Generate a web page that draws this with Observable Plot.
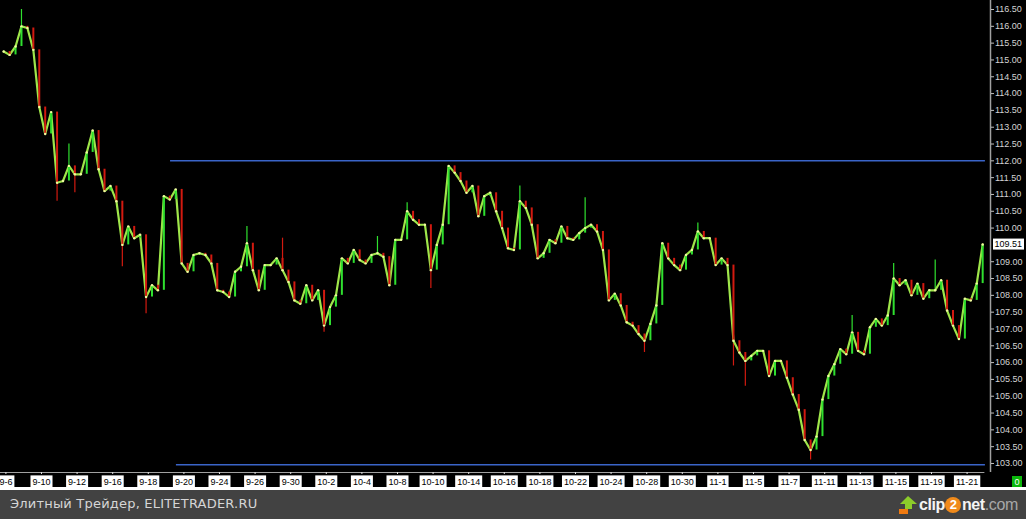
<!DOCTYPE html>
<html><head><meta charset="utf-8">
<script src="https://cdn.jsdelivr.net/npm/d3@7"></script>
<script src="https://cdn.jsdelivr.net/npm/@observablehq/plot@0.6"></script>
<style>
html,body{margin:0;padding:0;background:#000;width:1026px;height:519px;overflow:hidden}
#chart{height:490px;width:1026px;position:relative}
#chart svg{display:block}
#footer{height:29px;width:1026px;background:#424242;position:relative;}
#ftext{position:absolute;left:10px;top:6px;color:#d6d6d6;font-family:"DejaVu Sans";font-size:13px;letter-spacing:0.2px;white-space:nowrap}
#logo{position:absolute;left:897px;top:3px;height:24px;display:flex;align-items:center;white-space:nowrap;width:129px}
#logo .t{font-family:"Liberation Sans";font-size:16px;font-weight:bold;color:#f4f4f4;letter-spacing:-0.4px;white-space:nowrap}
#logo .two{display:inline-block;width:16px;height:16px;border-radius:50%;background:#f08a1a;color:#fff;font-size:13px;line-height:16px;text-align:center;margin:0 0.5px;vertical-align:1px;letter-spacing:0}
#logo .com{color:#a8a8a8;font-weight:normal}
</style></head><body>
<div id="chart"></div>
<div id="footer">
  <div id="ftext">Элитный Трейдер, ELITETRADER.RU</div>
  <div id="logo">
    <svg width="22" height="20" viewBox="0 0 22 20"><polygon points="11,1 20,9 15,9 15,14 8,14 8,9 3,9" fill="#8ccc2a"/><rect x="2" y="14" width="9" height="5" fill="#f07a10"/></svg>
    <span class="t">clip<span class="two">2</span>net<span class="com">.com</span></span>
  </div>
</div>
<script>
// closing prices, one every third of a trading day (9-6 .. 11-21)
const closes = [
 115.25,115.15,115.4,116.0,115.95,115.3,113.6,112.8,113.45,111.35,
 111.4,111.85,111.6,111.6,112.25,112.9,111.75,111.1,111.25,110.8,
 109.5,110.05,109.7,109.8,107.95,108.3,108.15,110.95,110.85,111.15,
 108.95,108.7,109.2,109.25,109.2,108.95,108.15,108.1,107.95,108.7,
 108.85,109.55,108.75,108.15,108.9,108.9,109.1,108.75,108.4,107.85,
 107.75,108.3,107.85,108.15,107.1,107.65,108.0,109.1,108.95,109.35,
 109.05,108.95,109.2,109.25,109.15,108.3,109.65,109.65,110.5,110.25,
 110.1,110.1,108.75,109.5,110.1,111.85,111.65,111.4,111.05,111.25,
 110.35,110.95,111.05,110.5,110.0,109.4,109.35,110.8,110.6,110.1,
 109.1,109.25,109.65,109.55,110.05,109.7,109.65,109.85,110.0,110.1,
 109.9,109.35,107.85,108.05,107.7,107.2,107.1,106.85,106.65,107.15,
 107.7,109.55,109.1,108.9,108.75,109.2,109.35,109.9,109.7,109.7,
 108.9,109.1,108.9,106.65,106.3,106.05,106.2,106.35,106.35,105.6,
 106.05,106.05,105.55,105.05,104.6,103.7,103.4,103.8,104.9,105.6,
 105.95,106.4,106.25,106.9,106.35,106.25,107.05,107.3,107.1,107.4,
 108.5,108.3,108.45,108.0,108.35,107.9,108.15,108.15,108.45,107.55,
 107.1,106.7,107.9,107.85,108.35,109.51
];
// wick extremes [bar index, price]
const spikes = [
 [3,116.5],[9,110.8],[11,112.5],[12,111.05],[20,108.85],[24,107.45],
 [41,110.05],[47,109.7],[54,106.9],[63,109.75],[68,110.75],[72,108.2],
 [87,111.25],[98,110.9],[108,106.3],[117,110.15],[123,105.9],[125,105.3],
 [136,103.1],[143,107.4],[150,108.95],[157,109.05]
];
const tickLabels = ["9-6","9-10","9-12","9-16","9-18","9-20","9-24","9-26","9-30","10-2",
 "10-4","10-8","10-10","10-14","10-16","10-18","10-22","10-24","10-28","10-30",
 "11-1","11-5","11-7","11-11","11-13","11-15","11-19","11-21"];
const levelPrices = [112.0, 102.96];
const levelFrom = [9.25, 9.58];
const levelTo = [55.03, 55.03];
const lastPrice = 109.51;
const yTicks = d3.range(103, 116.51, 0.5).filter(v => Math.abs(v - lastPrice) > 0.2);

const t0 = -0.125, step = 1/3;
const bars = closes.map((c, i) => ({t: t0 + i*step, open: i ? closes[i-1] : c, close: c}));
const wicks = spikes.map(([i, p]) => ({t: t0 + i*step, from: closes[i], to: p, up: bars[i].close >= bars[i].open}));
const levels = levelPrices.map((p, i) => ({price: p, from: levelFrom[i], to: levelTo[i]}));

const GREEN = "#2fe02f", RED = "#d21a10";
const chart = Plot.plot({
  width: 1026, height: 490,
  marginLeft: 0, marginRight: 36, marginTop: 0, marginBottom: 18,
  style: {background: "#000", color: "#d0d0d0", fontFamily: "Liberation Sans", fontSize: "9px", overflow: "visible"},
  x: {domain: [-0.303, 55.315], axis: null},
  y: {domain: [102.732, 116.768], axis: null},
  marks: [
    Plot.ruleY(levels, {y: "price", x1: "from", x2: "to", stroke: "#3a64c8", strokeWidth: 1.5}),
    Plot.ruleX(wicks, {x: "t", y1: "from", y2: "to", stroke: d => d.up ? GREEN : RED, strokeWidth: 1.2}),
    Plot.line(bars, {x: "t", y: "close", stroke: "#9fe64a", strokeWidth: 2.2, strokeLinejoin: "miter"}),
    Plot.ruleX(bars, {x: "t", y1: "open", y2: "close", stroke: d => d.close >= d.open ? GREEN : RED, strokeWidth: 2}),
    Plot.dot(bars, {x: "t", y: "close", r: 1.2, fill: "#f2f8a0", stroke: null}),
    Plot.ruleX([55.315], {stroke: "#a0a0a0", strokeWidth: 1.5}),
    Plot.ruleY([102.732], {x1: -0.303, x2: 55.0, stroke: "#a0a0a0", strokeWidth: 1.2}),
    Plot.axisY({anchor: "right", ticks: yTicks, tickFormat: d3.format(".2f"), tickSize: 3, tickPadding: 1.5, stroke: "#c0c0c0", fill: "#d4d4d4"}),
    Plot.axisX({ticks: tickLabels.map((_, k) => 2*k), tickFormat: d => tickLabels[Math.round(d/2)], tickSize: 2, tickPadding: 4, stroke: "#ddd", fill: "#000"})
  ]
});
document.getElementById("chart").appendChild(chart);

const svg = d3.select(chart);
// white boxes behind date labels
svg.selectAll('g[aria-label="x-axis tick label"] text').each(function() {
  const b = this.getBBox();
  const g = this.parentNode;
  const tr = this.getAttribute("transform");
  d3.select(g).insert("rect", () => this)
    .attr("transform", tr)
    .attr("x", b.x - 2).attr("y", b.y - 1.5).attr("width", b.width + 4).attr("height", 14)
    .attr("fill", "#fff");
});
// white strip under labels
svg.append("rect").attr("x", 0).attr("y", 487).attr("width", 1026).attr("height", 3).attr("fill", "#fff");
// current price box
const yPx = chart.scale("y").apply(lastPrice);
svg.append("rect").attr("x", 993).attr("y", yPx - 5.5).attr("width", 31).attr("height", 11).attr("fill", "#fff");
svg.append("text").attr("x", 994.5).attr("y", yPx + 3.3).attr("fill", "#000").attr("text-anchor", "start")
  .style("font-family", "Liberation Sans").style("font-size", "9px").text(d3.format(".2f")(lastPrice));
// green zero box
svg.append("rect").attr("x", 1012).attr("y", 476).attr("width", 10).attr("height", 11).attr("fill", "#0bb80b");
svg.append("text").attr("x", 1017).attr("y", 485).attr("text-anchor", "middle").attr("fill", "#fff")
  .style("font-family", "Liberation Sans").style("font-size", "9px").text("0");
</script>
</body></html>
